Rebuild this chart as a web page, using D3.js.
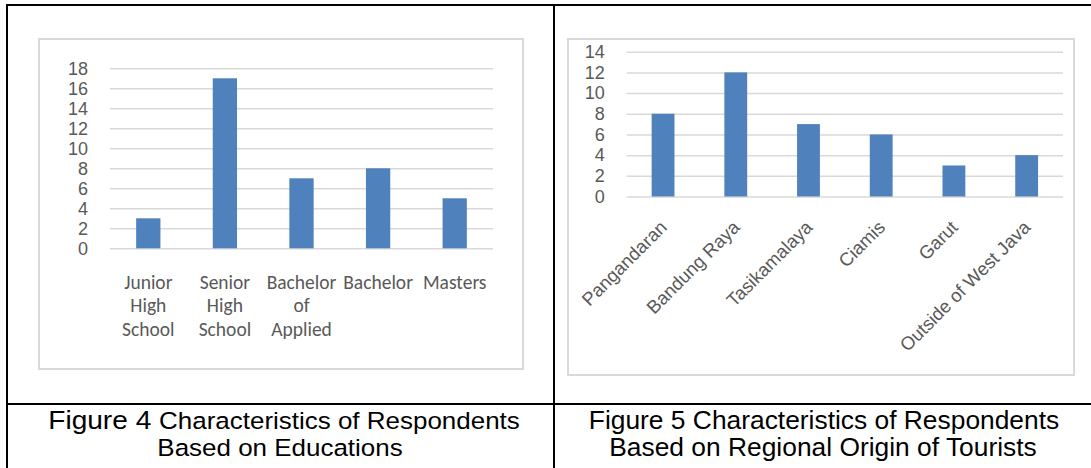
<!DOCTYPE html>
<html>
<head>
<meta charset="utf-8">
<script src="https://cdn.jsdelivr.net/npm/d3@7"></script>
<style>
  html, body { margin: 0; padding: 0; background: #fff; }
  svg { display: block; }
</style>
</head>
<body>
<svg id="chart" width="1091" height="468"></svg>
<script>
// ---------- data ----------
const eduCategories = ["Junior High School", "Senior High School", "Bachelor of Applied", "Bachelor", "Masters"];
const eduValues = [3, 17, 7, 8, 5];
const eduTicks = [0, 2, 4, 6, 8, 10, 12, 14, 16, 18];

const regionCategories = ["Pangandaran", "Bandung Raya", "Tasikamalaya", "Ciamis", "Garut", "Outside of West Java"];
const regionValues = [8, 12, 7, 6, 3, 4];
const regionTicks = [0, 2, 4, 6, 8, 10, 12, 14];

const captionLeft = ["Figure 4", "Characteristics of Respondents", "Based on Educations"];
const captionRight = ["Figure 5", "Characteristics of Respondents", "Based on Regional Origin of Tourists"];

// ---------- styles ----------
const BAR = "#4F81BD";
const GRID = "#d9d9d9";
const LABEL = "#595959";
const SANS = "'Liberation Sans', Arial, Helvetica, sans-serif";
const CAL = "Carlito, Calibri, 'Liberation Sans', sans-serif";

const svg = d3.select("#chart");

// ---------- table frame ----------
const frame = svg.append("g").attr("stroke", "#000").attr("stroke-width", 2);
frame.append("line").attr("x1", 6).attr("x2", 1091).attr("y1", 5).attr("y2", 5);
frame.append("line").attr("x1", 7).attr("x2", 7).attr("y1", 4).attr("y2", 468);
frame.append("line").attr("x1", 554).attr("x2", 554).attr("y1", 4).attr("y2", 468);
frame.append("line").attr("x1", 6).attr("x2", 1091).attr("y1", 404).attr("y2", 404);

// chart boxes
svg.append("rect").attr("x", 39).attr("y", 39).attr("width", 484).attr("height", 330)
  .attr("fill", "none").attr("stroke", GRID).attr("stroke-width", 2);
svg.append("rect").attr("x", 568).attr("y", 39).attr("width", 506).attr("height", 336)
  .attr("fill", "none").attr("stroke", GRID).attr("stroke-width", 2);

function drawChart(opts) {
  const { cats, vals, ticks, x0, x1, yTop, yBottom, barFrac } = opts;
  const x = d3.scaleBand().domain(cats).range([x0, x1]).padding(0);
  const y = d3.scaleLinear().domain([0, d3.max(ticks)]).range([yBottom, yTop]);
  const g = svg.append("g");

  const yAxis = d3.axisLeft(y).tickValues(ticks).tickSizeInner(-(x1 - x0)).tickSizeOuter(0).tickPadding(22);
  const ya = g.append("g").attr("transform", `translate(${x0},0)`).call(yAxis);
  ya.select(".domain").remove();
  ya.selectAll(".tick line").attr("stroke", GRID).attr("stroke-width", 1.5);
  ya.selectAll(".tick text").attr("fill", LABEL).style("font-family", SANS).style("font-size", "18px");

  const bw = x.bandwidth() * barFrac;
  g.append("g").selectAll("rect").data(vals).join("rect")
    .attr("x", (d, i) => x(cats[i]) + (x.bandwidth() - bw) / 2)
    .attr("y", d => y(d))
    .attr("width", bw)
    .attr("height", d => y(0) - y(d))
    .attr("fill", BAR);
  return { x, y, g };
}

// ---------- left chart ----------
const L = drawChart({ cats: eduCategories, vals: eduValues, ticks: eduTicks,
  x0: 110, x1: 493, yTop: 68.3, yBottom: 248.3, barFrac: 0.317 });
const lxa = L.g.append("g").attr("transform", `translate(0,${L.y(0)})`)
  .call(d3.axisBottom(L.x).tickSize(0).tickPadding(0));
lxa.select(".domain").remove();
lxa.selectAll(".tick text").each(function (d) {
  const t = d3.select(this);
  t.text(null).attr("y", 0).attr("dy", null)
    .attr("fill", LABEL).style("font-family", CAL).style("font-size", "19.5px");
  d.split(" ").forEach((w, i) => {
    t.append("tspan").attr("x", 0).attr("y", 40.5 + i * 23.5).text(w);
  });
});

// ---------- right chart ----------
const R = drawChart({ cats: regionCategories, vals: regionValues, ticks: regionTicks,
  x0: 626.7, x1: 1063, yTop: 51.7, yBottom: 196.5, barFrac: 0.314 });
const rxa = R.g.append("g").attr("transform", `translate(0,${R.y(0)})`)
  .call(d3.axisBottom(R.x).tickSize(0).tickPadding(0));
rxa.select(".domain").remove();
rxa.selectAll(".tick text")
  .attr("y", 0).attr("dy", null)
  .attr("text-anchor", "end")
  .attr("transform", "translate(5,32) rotate(-45)")
  .attr("fill", LABEL).style("font-family", SANS).style("font-size", "18.5px");

// ---------- captions ----------
function caption(cx, baseline, k, parts) {
  const t = svg.append("text").attr("text-anchor", "middle").attr("fill", "#000")
    .style("font-family", SANS)
    .attr("transform", `translate(${cx},${baseline}) scale(${k},1)`);
  parts.forEach(p => t.append("tspan").style("font-size", p.size + "px").text(p.text));
}
caption(284, 428.5, 1.06, [{ text: captionLeft[0] + " ", size: 26.5 }, { text: captionLeft[1], size: 24.5 }]);
caption(280, 455.5, 1.06, [{ text: captionLeft[2], size: 24.5 }]);
caption(824, 428.5, 1.055, [{ text: captionRight[0] + " " + captionRight[1], size: 25 }]);
caption(823, 455.5, 1.055, [{ text: captionRight[2], size: 25 }]);
</script>
</body>
</html>
